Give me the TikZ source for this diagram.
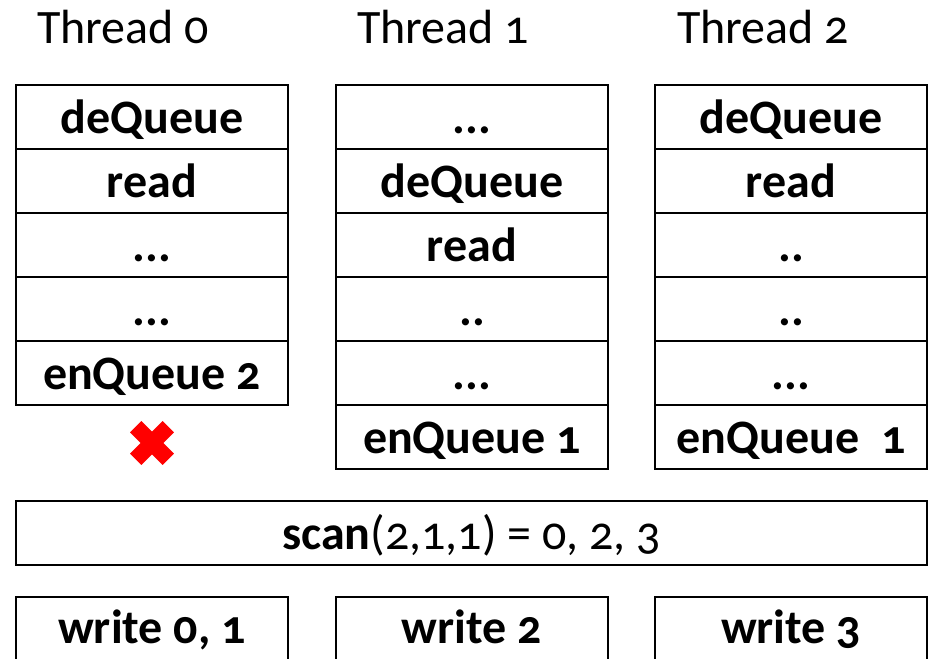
\documentclass[tikz,border=0pt]{standalone}
\usepackage{fontspec}
\setmainfont{Carlito}[Numbers=OldStyle]
\begin{document}
\begin{tikzpicture}[x=0.75pt,y=-0.75pt,
  bigfont/.style={font=\fontsize{36}{40}\selectfont},
  cell/.style={draw, line width=1.5pt, minimum width=204pt, minimum height=48pt,
    inner sep=0pt, font=\fontsize{36}{40}\selectfont\bfseries,
    text height=27pt, text depth=3pt},
  wcell/.style={cell, minimum height=54pt, text height=22pt, text depth=7pt},
  title/.style={bigfont, anchor=base west, inner sep=0pt},
  xmark/.style={red, line width=12pt}]
\useasboundingbox (0,0) rectangle (928,658);
\clip (0,0) rectangle (928,658);
% titles
\node[title] (t0) at (37,43) {Thread 0};
\node[title] (t1) at (357,43) {Thread 1};
\node[title] (t2) at (677,43) {Thread 2};
% thread 0
\node[cell] (a1) at (152,117) {deQueue};
\node[cell] (a2) at (152,181) {read};
\node[cell] (a3) at (152,245) {...};
\node[cell] (a4) at (152,309) {...};
\node[cell] (a5) at (152,373) {enQueue 2};
% thread 1
\node[cell] (b1) at (472,117) {...};
\node[cell] (b2) at (472,181) {deQueue};
\node[cell] (b3) at (472,245) {read};
\node[cell] (b4) at (472,309) {..};
\node[cell] (b5) at (472,373) {...};
\node[cell] (b6) at (472,437) {enQueue 1};
% thread 2
\node[cell] (c1) at (791,117) {deQueue};
\node[cell] (c2) at (791,181) {read};
\node[cell] (c3) at (791,245) {..};
\node[cell] (c4) at (791,309) {..};
\node[cell] (c5) at (791,373) {...};
\node[cell] (c6) at (791,437) {enQueue\ \ 1};
% red cross
\coordinate (x) at (152,443);
\draw[xmark] ([shift={(-16.3,-16.3)}]x) -- ([shift={(16.3,16.3)}]x);
\draw[xmark] ([shift={(-16.3,16.3)}]x) -- ([shift={(16.3,-16.3)}]x);
% scan
\node[cell, minimum width=683.25pt, font=\fontsize{36}{40}\selectfont] (scan) at (471.5,533)
  {\textbf{scan}(2,1,1) = 0, 2, 3};
% writes
\node[wcell] (w0) at (152,633) {write 0, 1};
\node[wcell] (w1) at (472,633) {write 2};
\node[wcell] (w2) at (791,633) {write 3};
\end{tikzpicture}
\end{document}
